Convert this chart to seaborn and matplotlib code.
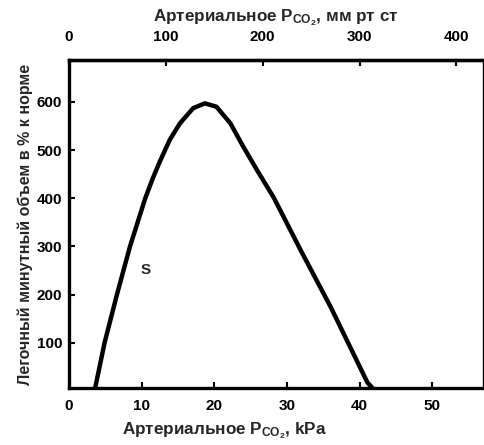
import matplotlib
matplotlib.use("Agg")
import matplotlib.pyplot as plt
import seaborn as sns
import pandas as pd

# Data (arterial PCO2 in kPa vs minute ventilation, % of normal)
pco2_kpa = [3.6, 4.9, 6.6, 8.4, 10.5, 11.5, 12.5, 13.9, 15.3, 17.1, 18.7, 20.3,
            22.2, 24.0, 25.9, 28.2, 31.9, 36.0, 41.1, 41.8]
ventilation = [6, 100, 200, 300, 400, 440, 476, 522, 556, 587, 597, 590,
               556, 507, 458, 401, 292, 175, 17, 6]

bottom_ticks = [0, 10, 20, 30, 40, 50]
top_ticks = [0, 100, 200, 300, 400]
y_ticks = [100, 200, 300, 400, 500, 600]

KPA_TO_MMHG = 7.50062

df = pd.DataFrame({"kpa": pco2_kpa, "vent": ventilation})

sns.set_style("ticks")
plt.rcParams["font.family"] = ["Liberation Sans", "DejaVu Sans"]
plt.rcParams["mathtext.default"] = "regular"

fig = plt.figure(figsize=(4.84, 4.45), dpi=100)
ax = fig.add_axes([69 / 484, 1 - 388 / 445, 414 / 484, 328 / 445])

sns.lineplot(data=df, x="kpa", y="vent", ax=ax, color="black", linewidth=3.2,
             sort=False, estimator=None, solid_joinstyle="round",
             solid_capstyle="butt")

ax.set_xlim(0, 57)
ax.set_ylim(6, 687)
ax.set_xticks(bottom_ticks)
ax.set_yticks(y_ticks)
ax.tick_params(direction="in", length=4, width=1.5, labelsize=11, colors="black")
ax.tick_params(axis="x", pad=8)
ax.tick_params(axis="y", pad=5)
for lab in ax.get_xticklabels() + ax.get_yticklabels():
    lab.set_fontweight("bold")

for side in ["left", "bottom", "top"]:
    ax.spines[side].set_linewidth(2.4)
    ax.spines[side].set_color("black")
ax.spines["right"].set_linewidth(1.0)
ax.spines["right"].set_color("black")

ax.set_xlabel(r"Артериальное P$_{CO_2}$, kPa", fontsize=12.3, fontweight="bold")
ax.xaxis.set_label_coords(0.375, -0.10)
ax.set_ylabel("Легочный минутный объем в % к норме", fontsize=11.5, fontweight="bold")
ax.yaxis.set_label_coords(-0.087, 0.5)

sec = ax.secondary_xaxis("top", functions=(lambda k: k * KPA_TO_MMHG,
                                           lambda m: m / KPA_TO_MMHG))
sec.set_xticks(top_ticks)
sec.tick_params(direction="in", length=4, width=1.5, labelsize=11, colors="black",
                pad=11.5)
for lab in sec.get_xticklabels():
    lab.set_fontweight("bold")
sec.spines["top"].set_linewidth(2.4)
sec.set_xlabel(r"Артериальное P$_{CO_2}$, мм рт ст", fontsize=12.3, fontweight="bold",
               labelpad=6)

ax.text(10.5, 251, "S", fontsize=11, fontweight="bold", ha="center", va="center")

fig.savefig("out.png", dpi=100)
